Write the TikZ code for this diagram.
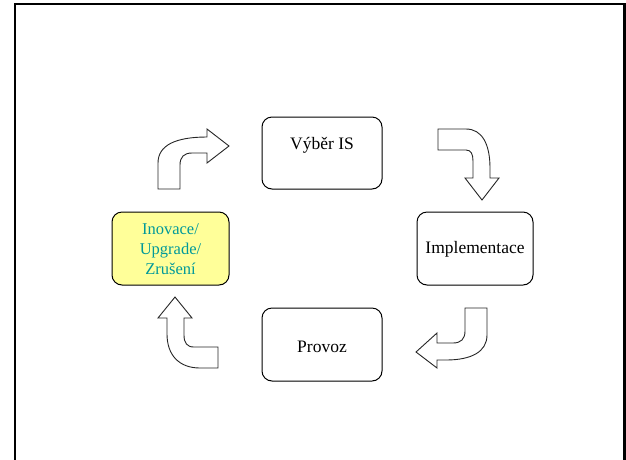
\documentclass[tikz,border=0pt]{standalone}
\usepackage{fontspec}
\setmainfont{Liberation Serif}
\definecolor{boxyellow}{RGB}{255,255,153}
\definecolor{tealtext}{RGB}{0,153,153}
\tikzset{
  stagebox/.style={draw=black, line width=1pt, rounded corners=10pt, fill=white, inner sep=0pt},
  stagetext/.style={font=\fontsize{17.5}{20}\selectfont, inner sep=0pt, align=center},
  blockarrow/.style={draw=black!85, line width=0.9pt, fill=white, line join=miter},
  frameline/.style={draw=black, line width=2.2pt}
}
\begin{document}
\begin{tikzpicture}[x=1pt,y=-1pt]
\useasboundingbox (0,0) rectangle (626,459);
% outer frame
\draw[frameline] (15,470) -- (15,4) -- (624.5,4) -- (624.5,470);

% stage boxes
\node[stagebox, minimum width=120pt, minimum height=72pt] (vyber) at (322,153) {};
\node[stagebox, minimum width=116pt, minimum height=73pt] (impl) at (475,248.5) {};
\node[stagebox, minimum width=120pt, minimum height=73pt] (provoz) at (322,344.5) {};
\node[stagebox, fill=boxyellow, minimum width=117pt, minimum height=73pt] (inov) at (170.5,248.5) {};

% texts
\node[stagetext] (tvyber) at (322,145) {Výběr IS};
\node[stagetext] (timpl) at (475,249) {Implementace};
\node[stagetext] (tprovoz) at (322,347) {Provoz};
\node[stagetext, text=tealtext, font=\fontsize{16.5}{20}\selectfont] (tinov) at (170.5,249) {Inovace/\\Upgrade/\\Zrušení};

% curved block arrows
\path[blockarrow] (158,189) -- (180,189) -- (180,165)
  .. controls (180,157) and (184,153) .. (192,153) -- (207,153) -- (207,163)
  -- (229,146) -- (207,129) -- (207,137)
  .. controls (176,137) and (158,145) .. (158,163) -- cycle;

\path[blockarrow] (438,129) -- (438,150) -- (466,150)
  .. controls (471,150) and (473,154) .. (473,161) -- (473,178) -- (465,178)
  -- (482,200) -- (499,178) -- (490,178) -- (490,168)
  .. controls (490,144) and (482,129) .. (466,129) -- cycle;

\path[blockarrow] (465,308) -- (487,308) -- (487,335)
  .. controls (487,352) and (471,360) .. (446,360) -- (437,360) -- (437,368)
  -- (416,352) -- (437,333) -- (437,343) -- (453,343)
  .. controls (461,343) and (465,339) .. (465,331) -- cycle;

\path[blockarrow] (218,347) -- (218,368) -- (200,368)
  .. controls (179,368) and (167,355) .. (167,334) -- (167,318) -- (158,318)
  -- (175,297) -- (192,318) -- (184,318) -- (184,335)
  .. controls (184,343) and (187,347) .. (194,347) -- cycle;
\end{tikzpicture}
\end{document}
